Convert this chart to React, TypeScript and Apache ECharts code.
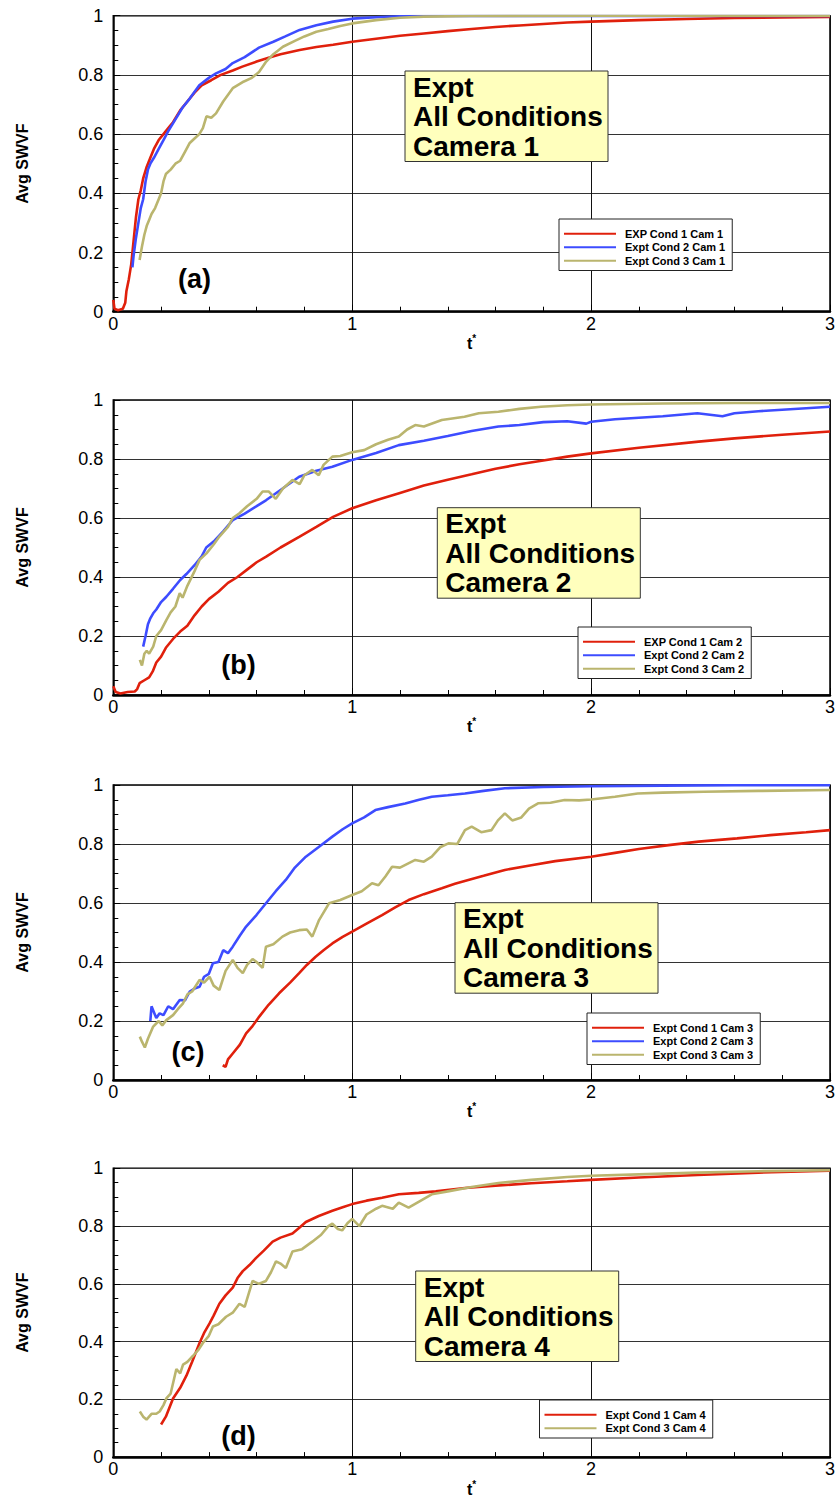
import React, { useEffect, useRef } from "react";
import * as echarts from "echarts";

// ---------- data (t*, Avg SWVF) ----------
const xTicks = [0, 1, 2, 3];
const yTicks = [0, 0.2, 0.4, 0.6, 0.8, 1];

const a1 = [[0,0.04],[0.005,0.01],[0.02,0.005],[0.04,0.01],[0.05,0.03],[0.055,0.07],[0.065,0.11],[0.075,0.16],[0.085,0.24],[0.095,0.32],[0.105,0.38],[0.115,0.41],[0.125,0.45],[0.14,0.49],[0.155,0.52],[0.17,0.55],[0.19,0.58],[0.21,0.6],[0.23,0.62],[0.25,0.64],[0.28,0.68],[0.31,0.71],[0.34,0.74],[0.37,0.765],[0.41,0.782],[0.45,0.8],[0.5,0.815],[0.54,0.828],[0.6,0.845],[0.65,0.858],[0.7,0.87],[0.78,0.884],[0.85,0.894],[0.92,0.902],[1.0,0.912],[1.1,0.922],[1.2,0.932],[1.3,0.94],[1.4,0.948],[1.5,0.955],[1.6,0.962],[1.7,0.967],[1.8,0.972],[1.9,0.977],[2.0,0.98],[2.2,0.985],[2.4,0.989],[2.6,0.992],[2.8,0.994],[3.0,0.996]];
const a2 = [[0.08,0.15],[0.085,0.19],[0.095,0.25],[0.105,0.3],[0.115,0.35],[0.125,0.38],[0.135,0.44],[0.145,0.48],[0.155,0.5],[0.17,0.52],[0.19,0.55],[0.21,0.58],[0.23,0.61],[0.26,0.65],[0.29,0.69],[0.32,0.72],[0.36,0.765],[0.4,0.79],[0.43,0.805],[0.47,0.82],[0.5,0.84],[0.55,0.86],[0.61,0.892],[0.67,0.912],[0.72,0.93],[0.78,0.952],[0.85,0.968],[0.92,0.98],[1.0,0.99],[1.1,0.995],[1.2,0.998],[1.4,0.999],[1.8,0.999],[2.2,0.999],[2.6,0.999],[3.0,0.999]];
const a3 = [[0.11,0.175],[0.12,0.22],[0.13,0.26],[0.14,0.29],[0.15,0.31],[0.16,0.33],[0.175,0.35],[0.19,0.38],[0.2,0.4],[0.21,0.44],[0.22,0.465],[0.24,0.48],[0.26,0.5],[0.28,0.51],[0.3,0.54],[0.32,0.57],[0.34,0.585],[0.36,0.6],[0.375,0.62],[0.39,0.66],[0.41,0.655],[0.43,0.67],[0.46,0.71],[0.5,0.755],[0.54,0.775],[0.58,0.79],[0.61,0.81],[0.64,0.845],[0.67,0.87],[0.71,0.895],[0.76,0.915],[0.8,0.93],[0.85,0.946],[0.9,0.955],[0.95,0.965],[1.0,0.974],[1.1,0.985],[1.2,0.993],[1.3,0.997],[1.5,0.999],[2.0,1.0],[2.5,1.0],[3.0,1.0]];

const b1 = [[0,0.03],[0.01,0.01],[0.03,0.005],[0.06,0.01],[0.09,0.012],[0.1,0.02],[0.11,0.04],[0.13,0.05],[0.15,0.06],[0.165,0.08],[0.18,0.11],[0.2,0.13],[0.22,0.16],[0.25,0.19],[0.28,0.215],[0.31,0.235],[0.34,0.27],[0.37,0.3],[0.4,0.325],[0.44,0.35],[0.48,0.38],[0.52,0.4],[0.56,0.425],[0.6,0.45],[0.64,0.469],[0.7,0.5],[0.78,0.537],[0.85,0.57],[0.92,0.604],[1.0,0.633],[1.1,0.66],[1.2,0.685],[1.3,0.71],[1.4,0.73],[1.5,0.748],[1.6,0.767],[1.7,0.782],[1.8,0.795],[1.9,0.808],[2.0,0.819],[2.2,0.838],[2.45,0.859],[2.6,0.87],[2.8,0.882],[3.0,0.893]];
const b2 = [[0.125,0.164],[0.135,0.2],[0.145,0.24],[0.155,0.26],[0.167,0.277],[0.18,0.29],[0.2,0.315],[0.222,0.333],[0.25,0.36],[0.28,0.39],[0.306,0.41],[0.34,0.44],[0.37,0.47],[0.389,0.5],[0.42,0.52],[0.46,0.555],[0.5,0.593],[0.55,0.615],[0.6,0.64],[0.639,0.66],[0.7,0.695],[0.778,0.74],[0.85,0.76],[0.917,0.774],[1.0,0.797],[1.1,0.82],[1.195,0.847],[1.3,0.862],[1.4,0.878],[1.5,0.895],[1.612,0.91],[1.7,0.915],[1.8,0.925],[1.9,0.928],[1.98,0.92],[2.0,0.926],[2.1,0.935],[2.2,0.94],[2.3,0.945],[2.445,0.955],[2.55,0.945],[2.6,0.955],[2.7,0.962],[2.8,0.967],[2.9,0.972],[3.0,0.977]];
const b3 = [[0.111,0.119],[0.12,0.1],[0.13,0.14],[0.14,0.15],[0.15,0.14],[0.167,0.164],[0.18,0.2],[0.2,0.22],[0.222,0.254],[0.24,0.28],[0.26,0.3],[0.278,0.345],[0.29,0.33],[0.31,0.37],[0.34,0.42],[0.361,0.458],[0.39,0.48],[0.42,0.51],[0.444,0.537],[0.48,0.57],[0.5,0.6],[0.528,0.616],[0.56,0.64],[0.6,0.665],[0.625,0.69],[0.65,0.69],[0.68,0.665],[0.71,0.7],[0.75,0.729],[0.78,0.715],[0.8,0.745],[0.833,0.763],[0.86,0.745],[0.88,0.78],[0.917,0.808],[0.95,0.81],[1.0,0.823],[1.05,0.83],[1.1,0.85],[1.15,0.865],[1.195,0.876],[1.23,0.9],[1.264,0.915],[1.3,0.91],[1.375,0.932],[1.47,0.943],[1.53,0.955],[1.612,0.96],[1.7,0.97],[1.79,0.977],[1.9,0.982],[2.0,0.985],[2.3,0.988],[2.6,0.99],[3.0,0.99]];

const c1 = [[0.458,0.05],[0.47,0.045],[0.48,0.07],[0.5,0.09],[0.53,0.12],[0.556,0.158],[0.58,0.18],[0.611,0.215],[0.65,0.255],[0.694,0.294],[0.74,0.33],[0.778,0.362],[0.81,0.39],[0.847,0.418],[0.88,0.44],[0.917,0.463],[0.96,0.485],[1.0,0.503],[1.06,0.53],[1.125,0.559],[1.18,0.585],[1.236,0.61],[1.3,0.63],[1.375,0.65],[1.43,0.665],[1.486,0.678],[1.55,0.692],[1.639,0.712],[1.75,0.728],[1.85,0.742],[2.0,0.757],[2.1,0.77],[2.2,0.783],[2.333,0.797],[2.45,0.808],[2.611,0.819],[2.75,0.83],[2.9,0.84],[3.0,0.847]];
const c2 = [[0.155,0.2],[0.16,0.25],[0.17,0.23],[0.18,0.21],[0.194,0.226],[0.21,0.22],[0.23,0.25],[0.25,0.24],[0.278,0.271],[0.3,0.27],[0.32,0.3],[0.34,0.31],[0.361,0.316],[0.38,0.35],[0.4,0.36],[0.417,0.396],[0.44,0.4],[0.46,0.44],[0.48,0.43],[0.5,0.452],[0.53,0.49],[0.556,0.52],[0.6,0.56],[0.639,0.599],[0.68,0.64],[0.722,0.678],[0.76,0.72],[0.806,0.757],[0.86,0.79],[0.917,0.825],[0.96,0.85],[1.0,0.87],[1.05,0.89],[1.097,0.915],[1.15,0.925],[1.222,0.937],[1.28,0.95],[1.333,0.96],[1.4,0.965],[1.472,0.971],[1.55,0.98],[1.639,0.989],[1.8,0.993],[2.0,0.996],[2.3,0.998],[2.6,0.999],[3.0,0.999]];
const c3 = [[0.111,0.147],[0.12,0.13],[0.132,0.11],[0.145,0.14],[0.167,0.181],[0.19,0.2],[0.205,0.185],[0.222,0.203],[0.25,0.22],[0.27,0.24],[0.292,0.26],[0.31,0.29],[0.33,0.3],[0.361,0.339],[0.38,0.33],[0.403,0.35],[0.42,0.32],[0.444,0.305],[0.47,0.37],[0.5,0.407],[0.52,0.38],[0.542,0.362],[0.56,0.39],[0.583,0.41],[0.6,0.4],[0.625,0.38],[0.639,0.452],[0.67,0.46],[0.708,0.486],[0.74,0.5],[0.778,0.508],[0.81,0.51],[0.833,0.486],[0.86,0.54],[0.903,0.599],[0.95,0.61],[1.0,0.627],[1.04,0.64],[1.083,0.667],[1.11,0.66],[1.139,0.69],[1.167,0.723],[1.2,0.72],[1.264,0.746],[1.3,0.74],[1.333,0.757],[1.37,0.79],[1.403,0.802],[1.44,0.8],[1.472,0.847],[1.5,0.859],[1.54,0.84],[1.583,0.847],[1.61,0.88],[1.639,0.904],[1.67,0.88],[1.708,0.89],[1.74,0.92],[1.778,0.938],[1.83,0.94],[1.889,0.949],[1.95,0.948],[2.0,0.951],[2.1,0.96],[2.195,0.971],[2.3,0.974],[2.472,0.977],[2.7,0.98],[3.0,0.983]];

const d1 = [[0.2,0.113],[0.22,0.14],[0.25,0.203],[0.28,0.24],[0.306,0.282],[0.33,0.33],[0.361,0.395],[0.38,0.43],[0.403,0.463],[0.42,0.49],[0.444,0.531],[0.47,0.56],[0.5,0.587],[0.52,0.62],[0.542,0.644],[0.57,0.665],[0.597,0.689],[0.63,0.715],[0.667,0.746],[0.7,0.76],[0.75,0.774],[0.78,0.795],[0.806,0.814],[0.86,0.835],[0.917,0.853],[0.96,0.865],[1.0,0.876],[1.06,0.888],[1.125,0.898],[1.195,0.91],[1.278,0.915],[1.35,0.92],[1.472,0.932],[1.6,0.94],[1.75,0.948],[1.9,0.955],[2.0,0.96],[2.2,0.968],[2.445,0.977],[2.7,0.985],[3.0,0.992]];
const d3 = [[0.111,0.158],[0.125,0.14],[0.139,0.13],[0.16,0.15],[0.18,0.15],[0.194,0.158],[0.21,0.18],[0.222,0.203],[0.24,0.22],[0.264,0.305],[0.28,0.29],[0.292,0.32],[0.31,0.33],[0.333,0.35],[0.355,0.37],[0.375,0.395],[0.4,0.42],[0.417,0.452],[0.44,0.46],[0.472,0.486],[0.5,0.5],[0.528,0.531],[0.55,0.52],[0.583,0.61],[0.61,0.6],[0.639,0.61],[0.66,0.64],[0.681,0.678],[0.7,0.67],[0.722,0.655],[0.75,0.712],[0.79,0.72],[0.833,0.746],[0.87,0.77],[0.9,0.8],[0.917,0.808],[0.94,0.79],[0.958,0.785],[0.98,0.81],[1.0,0.825],[1.03,0.8],[1.06,0.84],[1.1,0.86],[1.125,0.87],[1.17,0.86],[1.195,0.881],[1.236,0.864],[1.28,0.885],[1.333,0.91],[1.4,0.92],[1.5,0.935],[1.612,0.949],[1.75,0.96],[1.9,0.97],[2.0,0.974],[2.2,0.979],[2.445,0.985],[2.7,0.99],[3.0,0.993]];

const panelLabels = ["(a)", "(b)", "(c)", "(d)"];
const boxTexts = [
  "Expt\nAll Conditions\nCamera 1",
  "Expt\nAll Conditions\nCamera 2",
  "Expt\nAll Conditions\nCamera 3",
  "Expt\nAll Conditions\nCamera 4",
];
const seriesNames = [
  ["EXP Cond 1 Cam 1", "Expt Cond 2 Cam 1", "Expt Cond 3 Cam 1"],
  ["EXP Cond 1 Cam 2", "Expt Cond 2 Cam 2", "Expt Cond 3 Cam 2"],
  ["Expt Cond 1 Cam 3", "Expt Cond 2 Cam 3", "Expt Cond 3 Cam 3"],
  ["Expt Cond 1 Cam 4", "Expt Cond 3 Cam 4"],
];
const seriesData = [[a1, a2, a3], [b1, b2, b3], [c1, c2, c3], [d1, d3]];
const seriesColorKeys = [["red", "blue", "olive"], ["red", "blue", "olive"], ["red", "blue", "olive"], ["red", "olive"]];

// ---------- layout / style ----------
const COLORS: Record<string, string> = { red: "#e0200c", blue: "#3d4cff", olive: "#bab56e" };
const FONT = "Arial, 'Liberation Sans', Helvetica, sans-serif";
const GRID_LEFT = 113.3;
const GRID_W = 720;
const gridTops = [15.7, 400, 785, 1168.3];
const gridHeights = [296, 295, 295, 295];
const boxPos = [
  [405, 71], [437.3, 507.7], [455, 902.7], [415.7, 1271],
];
const legendPos = [
  [559, 219], [578, 627], [587, 1013], [539.5, 1400],
];
const labelPos = [
  [194.5, 279], [238.5, 665], [188, 1052], [238.5, 1436],
];

export default function App() {
  const ref = useRef<HTMLDivElement>(null);
  useEffect(() => {
    if (!ref.current) return;
    const chart = echarts.init(ref.current, undefined, { renderer: "svg" });

    const grid = gridTops.map((top, i) => ({
      left: GRID_LEFT, top, width: GRID_W, height: gridHeights[i],
      show: true, borderColor: "#000", borderWidth: 1.5, backgroundColor: "transparent",
    }));

    const xAxis = gridTops.map((_, i) => ({
      type: "value", gridIndex: i, min: xTicks[0], max: xTicks[xTicks.length - 1], interval: 1,
      name: "t{s|*}", nameLocation: "middle", nameGap: 11,
      nameTextStyle: {
        fontFamily: FONT, fontWeight: "bold", fontSize: 16, color: "#000", lineHeight: 20,
        rich: { s: { fontFamily: FONT, fontWeight: "bold", fontSize: 10, color: "#000", verticalAlign: "top", lineHeight: 20 } },
      },
      axisLine: { show: true, onZero: false, lineStyle: { color: "#000", width: 2.5 } },
      axisTick: { show: true, inside: true, length: 7, lineStyle: { color: "#000", width: 1 } },
      minorTick: { show: true, splitNumber: 5, length: 5, lineStyle: { color: "#000", width: 1 } },
      splitLine: { show: true, lineStyle: { color: "#111", width: 1 } },
      axisLabel: { fontFamily: FONT, fontSize: 18, color: "#000", margin: 3 },
    }));

    const yAxis = gridTops.map((_, i) => ({
      type: "value", gridIndex: i, min: yTicks[0], max: yTicks[yTicks.length - 1], interval: 0.2,
      name: "Avg SWVF", nameLocation: "middle", nameGap: 83, nameRotate: 90,
      nameTextStyle: { fontFamily: FONT, fontWeight: "bold", fontSize: 16, color: "#000" },
      axisLine: { show: true, onZero: false, lineStyle: { color: "#000", width: 1.5 } },
      axisTick: { show: true, inside: true, length: 7, lineStyle: { color: "#000", width: 1 } },
      minorTick: { show: true, splitNumber: 4, length: 5, lineStyle: { color: "#000", width: 1 } },
      splitLine: { show: true, lineStyle: { color: "#333", width: 1 } },
      axisLabel: { fontFamily: FONT, fontSize: 18, color: "#000", margin: 10 },
    }));

    const series: any[] = [];
    seriesData.forEach((group, p) => {
      group.forEach((data, k) => {
        series.push({
          type: "line", name: seriesNames[p][k], xAxisIndex: p, yAxisIndex: p,
          data, showSymbol: false, symbol: "none", clip: true,
          color: COLORS[seriesColorKeys[p][k]],
          lineStyle: { width: 2.6, color: COLORS[seriesColorKeys[p][k]] },
        });
      });
    });

    const legend = seriesNames.map((names, p) => ({
      data: names, orient: "vertical", left: legendPos[p][0], top: legendPos[p][1],
      icon: "rect", itemWidth: 52, itemHeight: 2, itemGap: 0,
      padding: [8, 7, 3, 5], backgroundColor: "#fff", borderColor: "#222", borderWidth: 1, borderRadius: 0,
      selectedMode: false,
      textStyle: { fontFamily: FONT, fontWeight: "bold", fontSize: 11, color: "#000", lineHeight: 13.5, padding: [0, 0, 0, 4] },
    }));

    const graphic: any[] = [];
    boxPos.forEach(([x, y], i) => {
      graphic.push({
        type: "rect", z: 50, shape: { x, y, width: 203, height: 90.5 },
        style: { fill: "#ffffbd", stroke: "#333", lineWidth: 1 },
      });
      graphic.push({
        type: "text", z: 51, x: x + 8, y: y + 1.5,
        style: { text: boxTexts[i], font: `bold 28px ${FONT}`, fill: "#000", lineHeight: 29.5, textVerticalAlign: "top", verticalAlign: "top" },
      });
    });
    labelPos.forEach(([x, y], i) => {
      graphic.push({
        type: "text", z: 51, x, y,
        style: { text: panelLabels[i], font: `bold 27px ${FONT}`, fill: "#000", textAlign: "center", textVerticalAlign: "middle", align: "center", verticalAlign: "middle" },
      });
    });

    chart.setOption({
      animation: false,
      backgroundColor: "#fff",
      grid, xAxis, yAxis, series, legend, graphic,
    });
    return () => chart.dispose();
  }, []);

  return <div ref={ref} style={{ position: "absolute", left: 0, top: 0, width: 838, height: 1500 }} />;
}
